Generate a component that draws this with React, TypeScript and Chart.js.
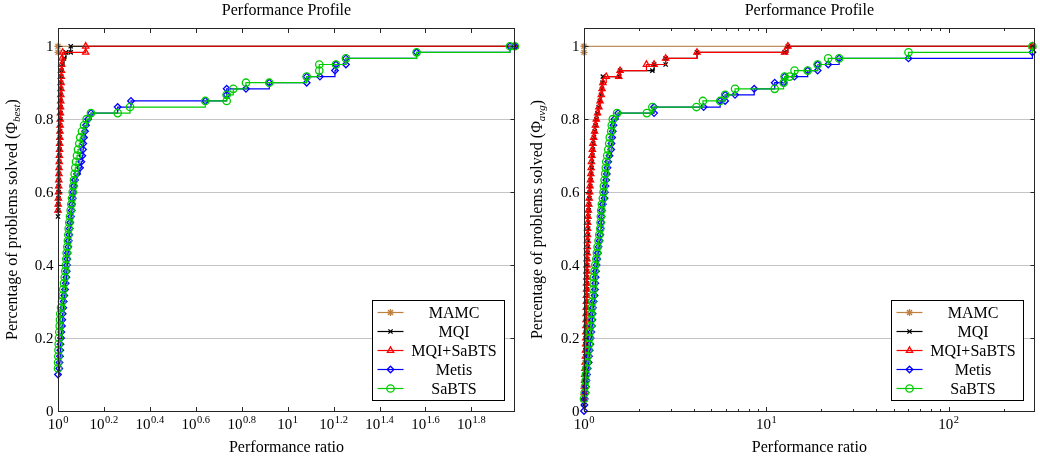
import React, { useEffect, useRef } from 'react';
import { Chart, registerables } from 'chart.js';
import { drawPoint } from 'chart.js/helpers';

Chart.register(...registerables);

const FONT = '"Liberation Serif", "Times New Roman", serif';

type Pt = [number, number];

// ---- series meta ----
const seriesNames = ['MAMC', 'MQI', 'MQI+SaBTS', 'Metis', 'SaBTS'];
const seriesColors = ['#bf8040', '#000000', '#ff0000', '#0000ff', '#00cc00'];
const seriesMarkers = ['star', 'crossRot', 'triangle', 'rectRot', 'circle'];
const markerRadii = [3.5, 3, 3.6, 3.3, 3.7];

// ---- axes ----
const yTickValues = [0, 0.2, 0.4, 0.6, 0.8, 1];
const yTickLabels = ['0', '0.2', '0.4', '0.6', '0.8', '1'];
const bestTickExponents = [0, 0.2, 0.4, 0.6, 0.8, 1, 1.2, 1.4, 1.6, 1.8];
const bestTickSup = ['0', '0.2', '0.4', '0.6', '0.8', '1', '1.2', '1.4', '1.6', '1.8'];
const avgTickExponents = [0, 1, 2];
const avgTickSup = ['0', '1', '2'];
const avgMinorMultipliers = [2, 3, 4, 5, 6, 7, 8, 9];
const bestXMax = 97.7;
const avgXMax = 296;

// ---- left panel: Phi_best ----
const bestMamc: Pt[] = [[1, 0.9833], [1, 1], [97.7, 1]];
const bestMqi: Pt[] = [
  [1.000, 0.5333], [1.002, 0.55], [1.003, 0.5667], [1.005, 0.5833], [1.006, 0.6], [1.008, 0.6167], [1.009, 0.6333],
  [1.010, 0.65], [1.012, 0.6667], [1.013, 0.6833], [1.015, 0.7], [1.016, 0.7167], [1.018, 0.7333], [1.019, 0.75],
  [1.021, 0.7667], [1.022, 0.7833], [1.023, 0.8], [1.025, 0.8167], [1.026, 0.8333], [1.028, 0.85], [1.029, 0.8667],
  [1.031, 0.8833], [1.032, 0.9], [1.034, 0.9167], [1.036, 0.9333], [1.040, 0.95], [1.062, 0.9667], [1.083, 0.9833],
  [1.136, 0.9833], [1.136, 1], [97.7, 1],
];
const bestCombo: Pt[] = [
  [1.000, 0.55], [1.002, 0.5667], [1.004, 0.5833], [1.005, 0.6], [1.007, 0.6167], [1.008, 0.6333], [1.010, 0.65],
  [1.011, 0.6667], [1.013, 0.6833], [1.014, 0.7], [1.016, 0.7167], [1.017, 0.7333], [1.019, 0.75], [1.020, 0.7667],
  [1.022, 0.7833], [1.023, 0.8], [1.025, 0.8167], [1.026, 0.8333], [1.028, 0.85], [1.029, 0.8667], [1.031, 0.8833],
  [1.032, 0.9], [1.034, 0.9167], [1.036, 0.9333], [1.038, 0.95], [1.041, 0.9667], [1.048, 0.9833], [1.32, 0.9833],
  [1.32, 1], [97.7, 1],
];
const bestMetis: Pt[] = [
  [1.000, 0.1], [1.013, 0.1167], [1.015, 0.1333], [1.020, 0.15], [1.023, 0.1667], [1.025, 0.1833], [1.031, 0.2],
  [1.034, 0.2167], [1.041, 0.2333], [1.044, 0.25], [1.048, 0.2667], [1.054, 0.2833], [1.059, 0.3], [1.065, 0.3167],
  [1.073, 0.3333], [1.080, 0.35], [1.087, 0.3667], [1.091, 0.3833], [1.094, 0.4], [1.098, 0.4167], [1.102, 0.4333],
  [1.109, 0.45], [1.113, 0.4667], [1.120, 0.4833], [1.124, 0.5], [1.131, 0.5167], [1.139, 0.5333], [1.147, 0.55],
  [1.151, 0.5667], [1.159, 0.5833], [1.166, 0.6], [1.174, 0.6167], [1.186, 0.6333], [1.210, 0.65], [1.247, 0.6667],
  [1.263, 0.6833], [1.276, 0.7], [1.285, 0.7167], [1.288, 0.7333], [1.298, 0.75], [1.311, 0.7667], [1.324, 0.7833],
  [1.351, 0.8], [1.392, 0.8167],
  [1.819, 0.8333], [2.079, 0.85], [4.378, 0.85], [5.426, 0.8667], [5.426, 0.8833], [6.584, 0.8833], [8.317, 0.9],
  [12.10, 0.9], [12.10, 0.9167], [13.82, 0.9167], [16.07, 0.9333], [16.23, 0.95], [17.94, 0.95], [17.94, 0.9667],
  [36.44, 0.9833], [92.87, 1], [97.6, 1],
];
const bestSabts: Pt[] = [
  [1.000, 0.1167], [1.001, 0.1333], [1.003, 0.15], [1.005, 0.1667], [1.007, 0.1833], [1.010, 0.2], [1.013, 0.2167],
  [1.017, 0.2333], [1.020, 0.25], [1.023, 0.2667], [1.031, 0.2833], [1.041, 0.3], [1.048, 0.3167], [1.054, 0.3333],
  [1.062, 0.35], [1.070, 0.3667], [1.076, 0.3833], [1.083, 0.4], [1.087, 0.4167], [1.091, 0.4333], [1.098, 0.45],
  [1.105, 0.4667], [1.109, 0.4833], [1.113, 0.5], [1.120, 0.5167], [1.128, 0.5333], [1.136, 0.55], [1.143, 0.5667],
  [1.151, 0.5833], [1.159, 0.6], [1.166, 0.6167], [1.174, 0.6333], [1.182, 0.65], [1.189, 0.6667], [1.198, 0.6833],
  [1.210, 0.7], [1.222, 0.7167], [1.238, 0.7333], [1.250, 0.75], [1.272, 0.7667], [1.298, 0.7833], [1.333, 0.8],
  [1.392, 0.8167],
  [1.819, 0.8167], [2.059, 0.8333], [4.378, 0.85], [5.426, 0.85], [5.426, 0.8667], [5.798, 0.8833], [6.584, 0.9],
  [8.317, 0.9], [12.10, 0.9167], [13.73, 0.9333], [13.73, 0.95], [16.23, 0.95], [17.94, 0.9667], [36.44, 0.9833],
  [92.87, 1], [97.6, 1],
];

// ---- right panel: Phi_avg ----
const avgMamc: Pt[] = [[1, 0.9833], [1, 1], [287.5, 1]];
const avgMqi: Pt[] = [
  [1.000, 0.0167], [1.002, 0.0333], [1.004, 0.05], [1.006, 0.0667], [1.008, 0.0833], [1.010, 0.1], [1.012, 0.1167],
  [1.014, 0.1333], [1.016, 0.15], [1.018, 0.1667], [1.020, 0.1833], [1.022, 0.2], [1.024, 0.2167], [1.026, 0.2333],
  [1.028, 0.25], [1.029, 0.2667], [1.031, 0.2833], [1.032, 0.3], [1.034, 0.3167], [1.035, 0.3333], [1.037, 0.35],
  [1.038, 0.3667], [1.040, 0.3833], [1.041, 0.4], [1.043, 0.4167], [1.047, 0.4333], [1.051, 0.45], [1.052, 0.4667],
  [1.053, 0.4833], [1.054, 0.5], [1.056, 0.5167], [1.058, 0.5333], [1.061, 0.55], [1.066, 0.5667], [1.071, 0.5833],
  [1.076, 0.6], [1.082, 0.6167], [1.088, 0.6333], [1.094, 0.65], [1.100, 0.6667], [1.106, 0.6833], [1.113, 0.7],
  [1.119, 0.7167], [1.124, 0.7333], [1.134, 0.75], [1.146, 0.7667], [1.158, 0.7833], [1.170, 0.8], [1.186, 0.8167],
  [1.204, 0.8333], [1.222, 0.85], [1.240, 0.8667], [1.255, 0.8833], [1.262, 0.9], [1.269, 0.9167],
  [1.563, 0.9167], [1.577, 0.9333], [2.371, 0.9333], [2.423, 0.95], [2.804, 0.95], [2.804, 0.9667], [4.165, 0.9833],
  [12.59, 0.9833], [13.12, 1], [287.5, 1],
];
const avgCombo: Pt[] = [
  [1.000, 0.0333], [1.003, 0.05], [1.005, 0.0667], [1.008, 0.0833], [1.010, 0.1], [1.013, 0.1167], [1.015, 0.1333],
  [1.018, 0.15], [1.020, 0.1667], [1.022, 0.1833], [1.023, 0.2], [1.024, 0.2167], [1.025, 0.2333], [1.027, 0.25],
  [1.028, 0.2667], [1.029, 0.2833], [1.031, 0.3], [1.032, 0.3167], [1.033, 0.3333], [1.034, 0.35], [1.036, 0.3667],
  [1.037, 0.3833], [1.038, 0.4], [1.040, 0.4167], [1.041, 0.4333], [1.042, 0.45], [1.044, 0.4667], [1.045, 0.4833],
  [1.046, 0.5], [1.047, 0.5167], [1.051, 0.5333], [1.057, 0.55], [1.063, 0.5667], [1.069, 0.5833], [1.074, 0.6],
  [1.079, 0.6167], [1.085, 0.6333], [1.090, 0.65], [1.094, 0.6667], [1.098, 0.6833], [1.105, 0.7], [1.112, 0.7167],
  [1.119, 0.7333], [1.130, 0.75], [1.143, 0.7667], [1.155, 0.7833], [1.168, 0.8], [1.187, 0.8167], [1.207, 0.8333],
  [1.225, 0.85], [1.244, 0.8667], [1.256, 0.8833], [1.269, 0.9],
  [1.324, 0.9167], [1.550, 0.9167], [1.577, 0.9333], [2.200, 0.95], [2.423, 0.95], [2.804, 0.9667], [4.165, 0.9833],
  [12.59, 0.9833], [13.12, 1], [287.5, 1],
];
const avgMetis: Pt[] = [
  [1.000, 0], [1.005, 0.0167], [1.009, 0.0333], [1.021, 0.05], [1.025, 0.0667], [1.031, 0.0833], [1.038, 0.1],
  [1.047, 0.1167], [1.061, 0.1333], [1.065, 0.15], [1.074, 0.1667], [1.083, 0.1833], [1.087, 0.2], [1.097, 0.2167],
  [1.105, 0.2333], [1.111, 0.25], [1.115, 0.2667], [1.119, 0.2833], [1.129, 0.3], [1.143, 0.3167], [1.148, 0.3333],
  [1.153, 0.35], [1.158, 0.3667], [1.162, 0.3833], [1.172, 0.4], [1.182, 0.4167], [1.191, 0.4333], [1.202, 0.45],
  [1.217, 0.4667], [1.228, 0.4833], [1.233, 0.5], [1.243, 0.5167], [1.248, 0.5333], [1.253, 0.55], [1.269, 0.5667],
  [1.296, 0.5833], [1.301, 0.6], [1.312, 0.6167], [1.324, 0.6333], [1.334, 0.65], [1.345, 0.6667], [1.357, 0.6833],
  [1.379, 0.7], [1.409, 0.7167], [1.414, 0.7333], [1.427, 0.75], [1.438, 0.7667], [1.450, 0.7833], [1.469, 0.8],
  [1.538, 0.8167],
  [2.423, 0.8167], [2.423, 0.8333], [4.529, 0.8333], [5.580, 0.85], [5.941, 0.85], [5.941, 0.8667], [6.733, 0.8667],
  [8.576, 0.8833], [11.11, 0.9], [12.43, 0.9], [12.59, 0.9167], [14.27, 0.9167], [16.85, 0.9333], [19.10, 0.9333],
  [19.10, 0.95], [21.83, 0.95], [25.05, 0.9667], [60.15, 0.9667], [287.5, 0.9833],
];
const avgSabts: Pt[] = [
  [1.000, 0.0333], [1.009, 0.05], [1.013, 0.0667], [1.021, 0.0833], [1.025, 0.1], [1.031, 0.1167], [1.038, 0.1333],
  [1.047, 0.15], [1.057, 0.1667], [1.065, 0.1833], [1.074, 0.2], [1.078, 0.2167], [1.087, 0.2333], [1.092, 0.25],
  [1.097, 0.2667], [1.105, 0.2833], [1.111, 0.3], [1.119, 0.3167], [1.125, 0.3333], [1.129, 0.35], [1.133, 0.3667],
  [1.143, 0.3833], [1.153, 0.4], [1.168, 0.4167], [1.177, 0.4333], [1.187, 0.45], [1.202, 0.4667], [1.213, 0.4833],
  [1.228, 0.5], [1.233, 0.5167], [1.237, 0.5333], [1.243, 0.55], [1.253, 0.5667], [1.269, 0.5833], [1.280, 0.6],
  [1.285, 0.6167], [1.296, 0.6333], [1.307, 0.65], [1.317, 0.6667], [1.324, 0.6833], [1.341, 0.7], [1.358, 0.7167],
  [1.375, 0.7333], [1.385, 0.75], [1.410, 0.7667], [1.420, 0.7833], [1.438, 0.8], [1.519, 0.8167],
  [2.211, 0.8167], [2.371, 0.8333], [4.134, 0.8333], [4.489, 0.85], [5.580, 0.85], [5.941, 0.8667], [6.733, 0.8833],
  [11.11, 0.8833], [12.43, 0.9], [12.59, 0.9167], [13.41, 0.9167], [14.27, 0.9333], [16.85, 0.9333], [19.10, 0.95],
  [21.83, 0.9667], [25.05, 0.9667], [60.15, 0.9833], [287.5, 1],
];

interface PanelSpec {
  left: number;
  width: number;
  padLeft: number;
  padRight: number;
  xMax: number;
  series: Pt[][];
  tickExps: number[];
  tickSup: string[];
  minor: boolean;
  ySub: string;
  yTitleBaseX: number;
}

function makeDecor(p: PanelSpec) {
  return {
    id: 'decor',
    beforeDatasetsDraw(chart: any) {
      const { ctx, chartArea: a } = chart;
      const ys = chart.scales.y;
      ctx.save();
      ctx.strokeStyle = '#c4c4c4';
      ctx.lineWidth = 1;
      yTickValues.forEach((v) => {
        const y = Math.round(ys.getPixelForValue(v)) + 0.5;
        ctx.beginPath();
        ctx.moveTo(a.left, y);
        ctx.lineTo(a.right, y);
        ctx.stroke();
      });
      ctx.restore();
    },
    afterDraw(chart: any) {
      const { ctx, chartArea: a } = chart;
      const xs = chart.scales.x;
      const ys = chart.scales.y;
      ctx.save();
      // frame
      ctx.strokeStyle = '#262626';
      ctx.lineWidth = 1;
      const L = Math.round(a.left) + 0.5;
      const R = Math.round(a.right) - 0.5;
      const T = Math.round(a.top) + 0.5;
      const B = Math.round(a.bottom) + 0.5;
      ctx.strokeRect(L, T, R - L, B - T);
      // x ticks
      const xtick = (px: number, len: number) => {
        const x = Math.round(px) + 0.5;
        ctx.beginPath();
        ctx.moveTo(x, B);
        ctx.lineTo(x, B - len);
        ctx.moveTo(x, T);
        ctx.lineTo(x, T + len);
        ctx.stroke();
      };
      p.tickExps.forEach((e) => xtick(xs.getPixelForValue(Math.pow(10, e)), 4.5));
      if (p.minor) {
        p.tickExps.forEach((e) => {
          avgMinorMultipliers.forEach((m) => {
            const v = m * Math.pow(10, e);
            if (v < p.xMax) xtick(xs.getPixelForValue(v), 2.5);
          });
        });
      }
      // y ticks
      yTickValues.forEach((v) => {
        const y = Math.round(ys.getPixelForValue(v)) + 0.5;
        ctx.beginPath();
        ctx.moveTo(L, y);
        ctx.lineTo(L + 4, y);
        ctx.moveTo(R, y);
        ctx.lineTo(R - 4, y);
        ctx.stroke();
      });
      // y tick labels
      ctx.fillStyle = '#000';
      ctx.textBaseline = 'alphabetic';
      ctx.font = `15px ${FONT}`;
      ctx.textAlign = 'right';
      yTickValues.forEach((v, i) => {
        ctx.fillText(yTickLabels[i], a.left - 4.5, ys.getPixelForValue(v) + 5);
      });
      // x tick labels 10^e
      ctx.textAlign = 'left';
      p.tickExps.forEach((e, i) => {
        const x = xs.getPixelForValue(Math.pow(10, e));
        ctx.font = `15px ${FONT}`;
        const wb = ctx.measureText('10').width;
        ctx.font = `10.5px ${FONT}`;
        const ws = ctx.measureText(p.tickSup[i]).width;
        const start = x - (wb + ws + 0.5) / 2;
        ctx.font = `15px ${FONT}`;
        ctx.fillText('10', start, 429);
        ctx.font = `10.5px ${FONT}`;
        ctx.fillText(p.tickSup[i], start + wb + 0.5, 422.5);
      });
      // titles
      const cx = (a.left + a.right) / 2;
      ctx.font = `16px ${FONT}`;
      ctx.textAlign = 'center';
      ctx.fillText('Performance ratio', cx, 452);
      ctx.fillText('Performance Profile', cx, 14.5);
      // y title (rotated, with subscript)
      ctx.save();
      ctx.translate(p.yTitleBaseX, (a.top + a.bottom) / 2);
      ctx.rotate(-Math.PI / 2);
      ctx.textAlign = 'left';
      const main = 'Percentage of problems solved (\u03A6';
      ctx.font = `16px ${FONT}`;
      const w1 = ctx.measureText(main).width;
      const w3 = ctx.measureText(')').width;
      ctx.font = `italic 11px ${FONT}`;
      const w2 = ctx.measureText(p.ySub).width;
      let tx = -(w1 + w2 + w3) / 2;
      ctx.font = `16px ${FONT}`;
      ctx.fillText(main, tx, 0);
      tx += w1;
      ctx.font = `italic 11px ${FONT}`;
      ctx.fillText(p.ySub, tx, 3);
      tx += w2;
      ctx.font = `16px ${FONT}`;
      ctx.fillText(')', tx, 0);
      ctx.restore();
      // legend
      const lw = 132;
      const lh = 100;
      const lr = a.left + 0.975 * (a.right - a.left);
      const lb = a.bottom - 0.03 * (a.bottom - a.top);
      const lx = Math.round(lr - lw) + 0.5;
      const ly = Math.round(lb - lh) + 0.5;
      ctx.fillStyle = '#fff';
      ctx.fillRect(lx, ly, lw, lh);
      ctx.strokeStyle = '#000';
      ctx.lineWidth = 1;
      ctx.strokeRect(lx, ly, lw, lh);
      seriesNames.forEach((name, i) => {
        const ry = ly + 12 + i * 19;
        ctx.strokeStyle = seriesColors[i];
        ctx.lineWidth = 1.2;
        ctx.beginPath();
        ctx.moveTo(lx + 5, ry);
        ctx.lineTo(lx + 31, ry);
        ctx.stroke();
        ctx.fillStyle = 'rgba(0,0,0,0)';
        ctx.lineWidth = 1.3;
        drawPoint(ctx, { pointStyle: seriesMarkers[i] as any, rotation: 0, radius: markerRadii[i], borderWidth: 1.3 }, lx + 18, ry);
        ctx.fillStyle = '#000';
        ctx.font = `16px ${FONT}`;
        ctx.textAlign = 'center';
        ctx.fillText(name, lx + 31 + (lw - 31) / 2, ry + 5.5);
      });
      ctx.restore();
    },
  };
}

function Panel(p: PanelSpec) {
  const ref = useRef<HTMLCanvasElement>(null);
  useEffect(() => {
    const canvas = ref.current!;
    const datasets = p.series.map((pts, i) => ({
      label: seriesNames[i],
      data: pts.map(([x, y]) => ({ x, y })),
      borderColor: seriesColors[i],
      backgroundColor: 'rgba(0,0,0,0)',
      borderWidth: 1.2,
      stepped: true,
      fill: false,
      pointStyle: seriesMarkers[i],
      pointRadius: markerRadii[i],
      pointBorderWidth: 1.3,
      pointBorderColor: seriesColors[i],
      pointBackgroundColor: 'rgba(0,0,0,0)',
      order: 5 - i,
      clip: false as any,
    }));
    const chart = new Chart(canvas, {
      type: 'line',
      data: { datasets: datasets as any },
      options: {
        animation: false,
        responsive: false,
        devicePixelRatio: 1,
        events: [],
        layout: { padding: { left: p.padLeft, right: p.padRight, top: 28, bottom: 48 } },
        scales: {
          x: { type: 'logarithmic', min: 1, max: p.xMax, display: false },
          y: { type: 'linear', min: 0, max: 1.05, display: false },
        },
        plugins: { legend: { display: false }, tooltip: { enabled: false }, title: { display: false } },
      },
      plugins: [makeDecor(p) as any],
    });
    return () => chart.destroy();
  }, []);
  return (
    <canvas
      ref={ref}
      width={p.width}
      height={459}
      style={{ position: 'absolute', left: p.left, top: 0, width: p.width, height: 459 }}
    />
  );
}

export default function App() {
  return (
    <div style={{ position: 'absolute', left: 0, top: 0, width: 1040, height: 459, background: '#fff', overflow: 'hidden' }}>
      <Panel
        left={0}
        width={530}
        padLeft={58}
        padRight={15}
        xMax={bestXMax}
        series={[bestMamc, bestMqi, bestCombo, bestMetis, bestSabts]}
        tickExps={bestTickExponents}
        tickSup={bestTickSup}
        minor={false}
        ySub="best"
        yTitleBaseX={17}
      />
      <Panel
        left={530}
        width={510}
        padLeft={54}
        padRight={1}
        xMax={avgXMax}
        series={[avgMamc, avgMqi, avgCombo, avgMetis, avgSabts]}
        tickExps={avgTickExponents}
        tickSup={avgTickSup}
        minor={true}
        ySub="avg"
        yTitleBaseX={12}
      />
    </div>
  );
}
